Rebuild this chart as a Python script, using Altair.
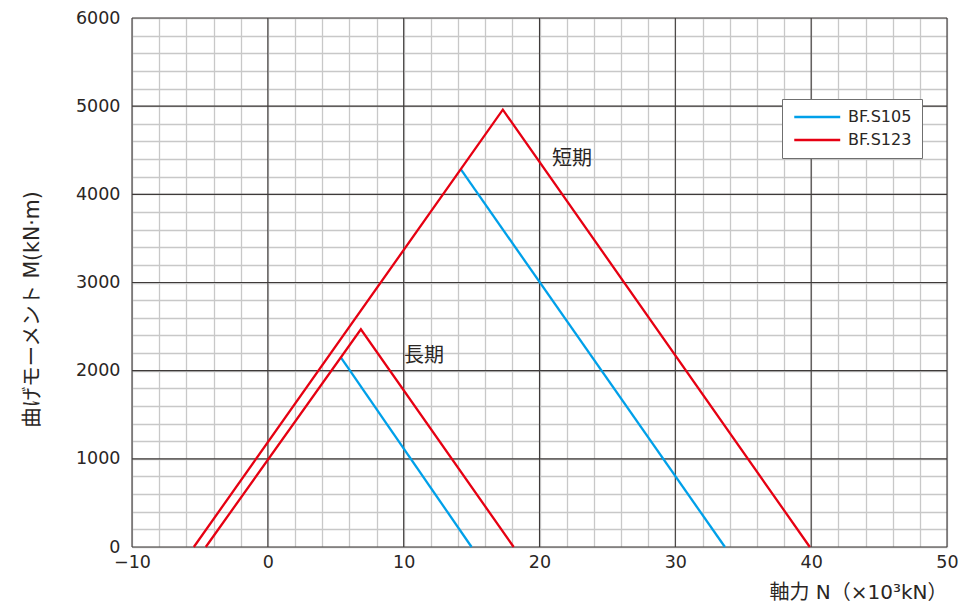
import altair as alt
import pandas as pd

# ---- data ----
s123_short_N = [-5.45, 17.3, 39.9]
s123_short_M = [0, 4960, 0]
s105_short_N = [14.2, 33.65]
s105_short_M = [4285, 0]
s123_long_N = [-4.57, 6.85, 18.1]
s123_long_M = [0, 2470, 0]
s105_long_N = [5.4, 15.0]
s105_long_M = [2145, 0]

series_names = ["BF.S105", "BF.S123"]
series_colors = ["#00a0e9", "#e60012"]

note_text = ["短期", "長期"]
note_N = [22.4, 11.5]
note_M = [4405, 2163]

x_ticks = list(range(-10, 51, 2))
y_ticks = list(range(0, 6001, 200))
x_major = [-10, 0, 10, 20, 30, 40, 50]
y_major = [0, 1000, 2000, 3000, 4000, 5000, 6000]

rows = []
for name, case, xs, ys in [
    ("BF.S105", "short", s105_short_N, s105_short_M),
    ("BF.S105", "long", s105_long_N, s105_long_M),
    ("BF.S123", "short", s123_short_N, s123_short_M),
    ("BF.S123", "long", s123_long_N, s123_long_M),
]:
    for i, (xv, yv) in enumerate(zip(xs, ys)):
        rows.append({"series": name, "case": case, "i": i, "N": xv, "M": yv})
lines_df = pd.DataFrame(rows)
notes_df = pd.DataFrame({"t": note_text, "N": note_N, "M": note_M})
xmaj_df = pd.DataFrame({"N": x_major})
ymaj_df = pd.DataFrame({"M": y_major})

LATIN = "DejaVu Sans, Noto Sans CJK JP"
TXT = "#2a2624"
MINOR = "#c8c8c8"
MAJOR = "#3e3a39"

x_scale = alt.Scale(domain=[-10, 50], nice=False, zero=False)
y_scale = alt.Scale(domain=[0, 6000], nice=False, zero=False)

x_axis = alt.Axis(
    values=x_ticks,
    labelExpr="datum.value % 10 === 0 ? datum.label : ''",
    labelFlush=False, labelOverlap=False,
    grid=True, gridColor=MINOR, gridWidth=1.3,
    ticks=False, tickSize=0, domain=False,
    labelFont=LATIN, labelFontSize=17.5, labelColor=TXT, labelPadding=6,
    title="軸力 N（×10³kN）", titleFont=LATIN, titleFontSize=20,
    titleFontWeight="normal", titleColor=TXT,
    titleAnchor="end", titleAlign="right", titleBaseline="alphabetic",
    titleX=815, titleY=51,
)
y_axis = alt.Axis(
    values=y_ticks, format="d",
    labelExpr="datum.value % 1000 === 0 ? datum.label : ''",
    labelFlush=False, labelOverlap=False,
    grid=True, gridColor=MINOR, gridWidth=1.3,
    ticks=False, tickSize=0, domain=False,
    labelFont=LATIN, labelFontSize=17.5, labelColor=TXT, labelPadding=12,
    title="曲げモーメント M(kN·m)", titleFont=LATIN, titleFontSize=20.5,
    titleFontWeight="normal", titleColor=TXT,
    titleAngle=-90, titleAlign="center", titleBaseline="middle",
    titleX=-100, titleY=291,
)

X = alt.X("N:Q", scale=x_scale, axis=x_axis)
Y = alt.Y("M:Q", scale=y_scale, axis=y_axis)

vmaj = alt.Chart(xmaj_df).mark_rule(color=MAJOR, strokeWidth=1.1).encode(x=X)
hmaj = alt.Chart(ymaj_df).mark_rule(color=MAJOR, strokeWidth=1.1).encode(y=Y)

lines = alt.Chart(lines_df).mark_line(strokeWidth=2.3).encode(
    x=X, y=Y,
    color=alt.Color(
        "series:N",
        scale=alt.Scale(domain=series_names, range=series_colors),
        legend=alt.Legend(
            title=None, orient="none", legendX=650, legendY=81,
            symbolType="M-1,0H7", symbolSize=132, symbolStrokeWidth=2.5,
            labelFont=LATIN, labelFontSize=16, labelColor=TXT,
            fillColor="white", strokeColor="#6f6f6f", padding=10,
            rowPadding=7, labelOffset=40,
        ),
    ),
    detail="case:N",
    order="i:Q",
)

notes = alt.Chart(notes_df).mark_text(
    font="Noto Sans CJK JP", fontSize=20, color=TXT, align="center", baseline="middle"
).encode(x=X, y=Y, text="t:N")

chart = alt.layer(vmaj, hmaj, lines, notes).properties(
    width=815, height=529,
    autosize=alt.AutoSizeParams(type="none"),
    padding={"left": 124, "top": 10, "right": 12, "bottom": 58},
).configure_view(stroke=None).configure(background="white")

chart.save("out.html", embed_options={"renderer": "svg", "actions": False})
